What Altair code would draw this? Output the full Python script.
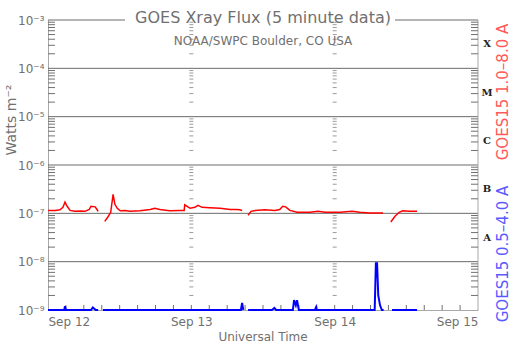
import altair as alt
import pandas as pd

# ---- data (hours since Sep 12 00:00 UT, flux in W m^-2) ----
red_seg_a_h = [0, 1.2, 2.0, 2.5, 2.85, 3.2, 3.7, 4.5, 5.4, 6.2, 6.9, 7.2, 7.9, 8.2, 8.4]
red_seg_a_v = [1.15e-7, 1.15e-7, 1.18e-7, 1.33e-7, 1.71e-7, 1.4e-7, 1.15e-7, 1.1e-7, 1.12e-7, 1.1e-7,
               1.2e-7, 1.4e-7, 1.36e-7, 1.2e-7, 1.1e-7]
red_seg_b_h = [9.5, 10.0, 10.5, 10.9, 11.2, 11.6, 12.1, 12.9, 13.7, 15.4, 17.1, 17.9, 18.7, 20.4, 22.1,
               22.8, 22.9, 23.3, 23.8, 24.6, 25.1, 25.8, 27.1, 28.8, 30.5, 31.5, 32.1, 32.5]
red_seg_b_v = [0.68e-7, 0.83e-7, 1.05e-7, 2.47e-7, 1.54e-7, 1.27e-7, 1.13e-7, 1.15e-7, 1.1e-7, 1.13e-7,
               1.2e-7, 1.27e-7, 1.2e-7, 1.13e-7, 1.15e-7, 1.15e-7, 1.5e-7, 1.4e-7, 1.27e-7, 1.33e-7,
               1.46e-7, 1.33e-7, 1.3e-7, 1.27e-7, 1.2e-7, 1.2e-7, 1.18e-7, 1.15e-7]
red_seg_c_h = [33.5, 34.0, 34.7, 36.3, 38.0, 38.8, 39.3, 39.8, 40.5, 41.7, 43.9, 45.2, 46.4, 48.9,
               50.9, 52.2, 53.9, 56.1]
red_seg_c_v = [0.91e-7, 1.1e-7, 1.15e-7, 1.18e-7, 1.15e-7, 1.2e-7, 1.4e-7, 1.36e-7, 1.15e-7, 1.05e-7,
               1.05e-7, 1.1e-7, 1.05e-7, 1.05e-7, 1.1e-7, 1.05e-7, 1.02e-7, 1.02e-7]
red_seg_d_h = [57.4, 58.1, 58.8, 59.4, 60.6, 61.8]
red_seg_d_v = [0.66e-7, 0.87e-7, 1.05e-7, 1.13e-7, 1.1e-7, 1.1e-7]

blue_seg_a_h = [0, 2.7, 2.85, 3.0, 7.2, 7.5, 8.0, 8.4]
blue_seg_a_v = [1e-9, 1e-9, 1.2e-9, 1e-9, 1e-9, 1.13e-9, 1e-9, 1e-9]
blue_seg_b_h = [9.2, 32.3, 32.5, 32.7]
blue_seg_b_v = [1e-9, 1e-9, 1.4e-9, 1e-9]
blue_seg_c_h = [33.5, 37.5, 37.9, 38.2, 41.0, 41.2, 41.5, 41.7, 42.0, 44.7, 44.9, 45.0,
                54.7, 54.9, 55.1, 55.3, 55.6, 55.9, 56.2]
blue_seg_c_v = [1e-9, 1e-9, 1.1e-9, 1e-9, 1e-9, 1.6e-9, 1.25e-9, 1.6e-9, 1e-9, 1e-9, 1.15e-9, 1e-9,
                1e-9, 9.3e-9, 9.3e-9, 2.0e-9, 1.25e-9, 1e-9, 1e-9]
blue_seg_d_h = [57.6, 61.8]
blue_seg_d_v = [1e-9, 1e-9]

day_hours = [0, 24, 48, 72]
day_labels = ["Sep 12", "Sep 13", "Sep 14", "Sep 15"]
decades = [1e-9, 1e-8, 1e-7, 1e-6, 1e-5, 1e-4, 1e-3]
inner_grid = [1e-8, 1e-7, 1e-6, 1e-5, 1e-4]
minor_ticks = [k * 10.0 ** e for e in range(-9, -3) for k in range(2, 10)]
hour_ticks = list(range(3, 72, 3))
class_letters = ["X", "M", "C", "B", "A"]
class_pos = [3.16e-4, 3.16e-5, 3.16e-6, 3.16e-7, 3.16e-8]

W, H = 430, 290
GRID = "#6a6a6a"
AXC = "#a8a8a8"
TXT = "#707070"


def segs(parts):
    rows = []
    for i, (hs, vs) in enumerate(parts):
        for h, v in zip(hs, vs):
            rows.append({"h": h, "v": v, "seg": i})
    return pd.DataFrame(rows)


red_df = segs([(red_seg_a_h, red_seg_a_v), (red_seg_b_h, red_seg_b_v),
               (red_seg_c_h, red_seg_c_v), (red_seg_d_h, red_seg_d_v)])
blue_df = segs([(blue_seg_a_h, blue_seg_a_v), (blue_seg_b_h, blue_seg_b_v),
                (blue_seg_c_h, blue_seg_c_v), (blue_seg_d_h, blue_seg_d_v)])

xs = alt.Scale(domain=[0, 72], nice=False, zero=False)
ys = alt.Scale(type="log", domain=[1e-9, 1e-3], nice=False)

label_expr = ("'10' + ['⁻⁹','⁻⁸','⁻⁷','⁻⁶','⁻⁵','⁻⁴','⁻³']"
              "[round(log(datum.value)/LN10)+9]")
xlab_expr = "['Sep 12','Sep 13','Sep 14','Sep 15'][round(datum.value/24)]"

axes = alt.Chart(pd.DataFrame({"h": day_hours, "v": [1e-9] * 4})).mark_point(opacity=0).encode(
    x=alt.X("h:Q", scale=xs, axis=alt.Axis(values=day_hours, labelExpr=xlab_expr, grid=False,
                                            ticks=False, domainColor=AXC, labelColor=TXT,
                                            labelFontSize=12, labelPadding=6, title=None,
                                            labelFont="DejaVu Sans")),
    y=alt.Y("v:Q", scale=ys, axis=alt.Axis(values=decades, labelExpr=label_expr, grid=False,
                                            ticks=False, domainColor=AXC, labelColor=TXT,
                                            labelFontSize=12, labelPadding=4, title=None,
                                            labelFont="DejaVu Sans")),
)

grid = alt.Chart(pd.DataFrame({"v": inner_grid})).mark_rule(color=GRID, strokeWidth=1).encode(
    y=alt.Y("v:Q", scale=ys), x=alt.value(0), x2=alt.value(W))

top_left = alt.Chart(pd.DataFrame({"a": [0]})).mark_rule(color=GRID).encode(
    x=alt.value(0), x2=alt.value(77), y=alt.value(0))
top_right = alt.Chart(pd.DataFrame({"a": [0]})).mark_rule(color=GRID).encode(
    x=alt.value(347), x2=alt.value(W), y=alt.value(0))
right_axis = alt.Chart(pd.DataFrame({"a": [0]})).mark_rule(color=AXC).encode(
    x=alt.value(W), y=alt.value(0), y2=alt.value(H))

mt = pd.DataFrame({"v": minor_ticks})
left_ticks = alt.Chart(mt).mark_rule(color=TXT).encode(
    y=alt.Y("v:Q", scale=ys), x=alt.value(0), x2=alt.value(7))
right_ticks = alt.Chart(mt).mark_rule(color=TXT).encode(
    y=alt.Y("v:Q", scale=ys), x=alt.value(W - 7), x2=alt.value(W))
mid_rows = pd.DataFrame([{"h": h, "v": v} for h in [24, 48] for v in minor_ticks])
mid_ticks = alt.Chart(mid_rows).mark_tick(color=TXT, orient="horizontal", size=4, thickness=1).encode(
    x=alt.X("h:Q", scale=xs), y=alt.Y("v:Q", scale=ys))
bottom_ticks = alt.Chart(pd.DataFrame({"h": hour_ticks})).mark_rule(color=TXT).encode(
    x=alt.X("h:Q", scale=xs), y=alt.value(H - 5), y2=alt.value(H))

red_line = alt.Chart(red_df).mark_line(color="#ff0000", strokeWidth=1.5).encode(
    x=alt.X("h:Q", scale=xs), y=alt.Y("v:Q", scale=ys), detail="seg:N")
blue_line = alt.Chart(blue_df).mark_line(color="#0000ff", strokeWidth=2).encode(
    x=alt.X("h:Q", scale=xs), y=alt.Y("v:Q", scale=ys), detail="seg:N")

letters = alt.Chart(pd.DataFrame({"t": class_letters, "v": class_pos})).mark_text(
    font="DejaVu Serif", fontWeight="bold", fontSize=10, color="#222222", align="center",
    baseline="middle").encode(text="t:N", y=alt.Y("v:Q", scale=ys), x=alt.value(439))


def label(txt, x, y, size, color, angle=0, font="DejaVu Sans"):
    return alt.Chart(pd.DataFrame({"t": [txt]})).mark_text(
        fontSize=size, color=color, angle=angle, align="center", baseline="middle",
        font=font).encode(text="t:N", x=alt.value(x), y=alt.value(y))


title = label("GOES Xray Flux (5 minute data)", 215, -2, 16, TXT)
subtitle = label("NOAA/SWPC Boulder, CO USA", 215, 21, 12, TXT)
ytitle = label("Watts m⁻²", -36, 100, 14, TXT, angle=270)
xtitle = label("Universal Time", 215, 317, 12, TXT)
red_lab = label("GOES15 1.0–8.0 A", 455, 72, 15, "#ff5a5a", angle=270)
blue_lab = label("GOES15 0.5–4.0 A", 455, 234, 15, "#5a5aff", angle=270)

chart = alt.layer(
    axes, grid, top_left, top_right, right_axis, left_ticks, right_ticks, mid_ticks,
    bottom_ticks, red_line, blue_line, letters, title, subtitle, ytitle, xtitle, red_lab, blue_lab
).properties(
    width=W, height=H, autosize=alt.AutoSizeParams(type="none"),
    padding={"left": 48, "top": 20, "right": 34, "bottom": 42}, background="white"
).configure_view(stroke=None)

chart.save("out.html", embed_options={"renderer": "svg", "actions": False})
